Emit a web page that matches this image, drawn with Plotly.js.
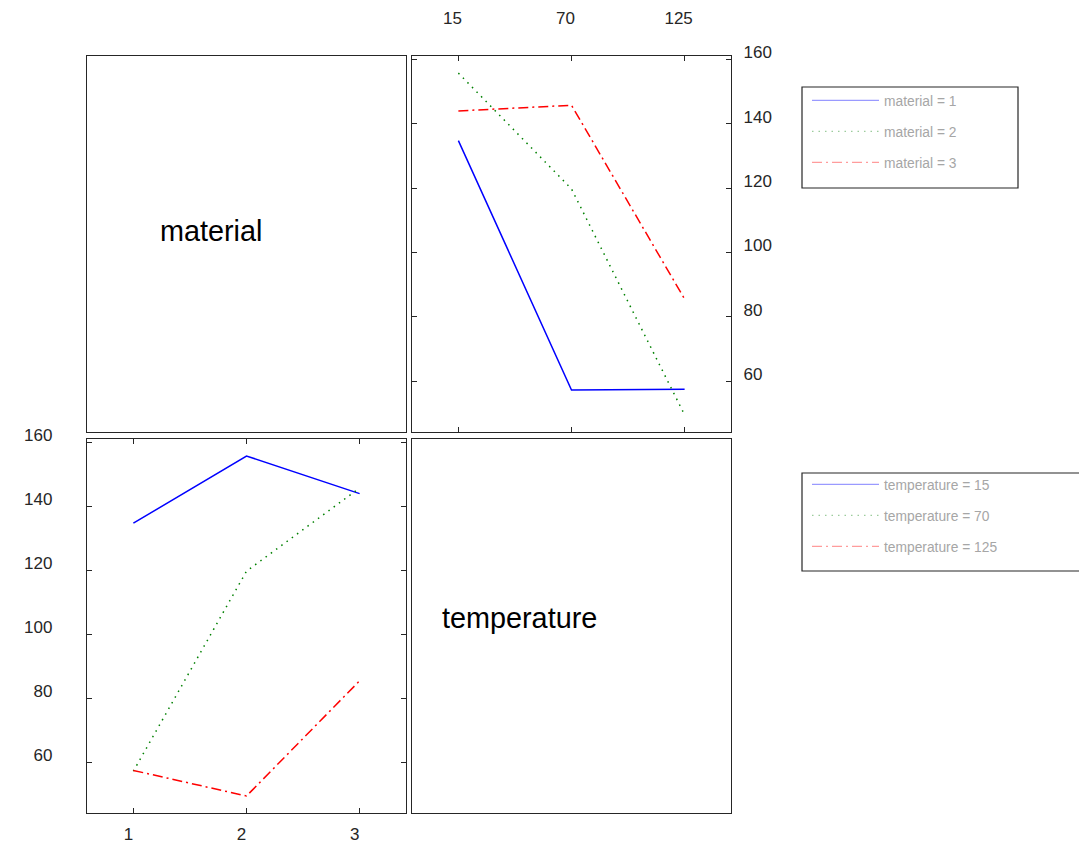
<!DOCTYPE html>
<html>
<head>
<meta charset="utf-8">
<script src="https://cdn.plot.ly/plotly-3.0.1.min.js"></script>
<style>html,body{margin:0;padding:0;background:#fff;}#chart{width:1079px;height:844px;}</style>
</head>
<body>
<div id="chart"></div>
<script>
// ---- data ----
const factorNames = ["material", "temperature"];
const materialLevels = [1, 2, 3];
const temperatureLevels = [15, 70, 125];
// mean response for each material (rows) at each temperature (columns)
const meanMaterial1 = [134.75, 57.25, 57.5];
const meanMaterial2 = [155.75, 119.75, 49.5];
const meanMaterial3 = [144.0, 145.75, 85.5];
const yTicks = [60, 80, 100, 120, 140, 160];

// ---- styles ----
const colors = ["#0000ff", "#008000", "#ff0000"];
const fadedColors = ["#9a9aff", "#9ccc9c", "#ff9c9c"];
const dashes = ["solid", "1.5px,5px", "10px,4px,2px,4px"];
const ink = "#262626";

const meansByMaterial = [meanMaterial1, meanMaterial2, meanMaterial3];
const meansByTemperature = temperatureLevels.map((t, j) => meansByMaterial.map(row => row[j]));

const all = meansByMaterial.flat();
const lo = Math.min(...all), hi = Math.max(...all);
const pad = (hi - lo) * 0.05;
const yRange = [lo - pad, hi + pad];

const traces = [];
// empty traces so the two diagonal (label) panels get their frames
traces.push({x: [null], y: [null], xaxis: "x", yaxis: "y", type: "scatter", mode: "lines", showlegend: false, hoverinfo: "skip"});
traces.push({x: [null], y: [null], xaxis: "x4", yaxis: "y4", type: "scatter", mode: "lines", showlegend: false, hoverinfo: "skip"});
// top-right: x = temperature, one line per material
meansByMaterial.forEach((vals, i) => {
  traces.push({
    x: temperatureLevels, y: vals, xaxis: "x2", yaxis: "y2",
    mode: "lines", type: "scatter", showlegend: false, hoverinfo: "x+y",
    line: {color: colors[i], width: 1.5, dash: dashes[i]}
  });
});
// bottom-left: x = material, one line per temperature
meansByTemperature.forEach((vals, j) => {
  traces.push({
    x: materialLevels, y: vals, xaxis: "x3", yaxis: "y3",
    mode: "lines", type: "scatter", showlegend: false, hoverinfo: "x+y",
    line: {color: colors[j], width: 1.5, dash: dashes[j]}
  });
});
// legend entries (faded, as in the reference)
materialLevels.forEach((m, i) => {
  traces.push({
    x: [null], y: [null], xaxis: "x2", yaxis: "y2", mode: "lines", type: "scatter",
    name: factorNames[0] + " = " + m, legend: "legend", legendgroup: "m" + i,
    line: {color: fadedColors[i], width: 1.2, dash: dashes[i]}
  });
});
temperatureLevels.forEach((t, j) => {
  traces.push({
    x: [null], y: [null], xaxis: "x3", yaxis: "y3", mode: "lines", type: "scatter",
    name: factorNames[1] + " = " + t, legend: "legend2", legendgroup: "t" + j,
    line: {color: fadedColors[j], width: 1.2, dash: dashes[j]}
  });
});

const W = 1079, H = 844;
const col1 = [87 / W, 406 / W], col2 = [412 / W, 731 / W];
const row1 = [1 - 432 / H, 1 - 56 / H], row2 = [1 - 813 / H, 1 - 439 / H];
const tickFont = {family: "Liberation Sans, Arial, sans-serif", size: 17, color: ink};

function diagAxis(domain, anchor) {
  return {domain: domain, anchor: anchor, range: [0, 1], showgrid: false, zeroline: false,
    showline: true, linecolor: ink, linewidth: 1.2, mirror: true, ticks: "", showticklabels: false, fixedrange: true};
}
function dataAxis(extra) {
  return Object.assign({showgrid: false, zeroline: false, showline: true, linecolor: ink, linewidth: 1.2,
    mirror: "ticks", ticks: "inside", ticklen: 5, tickcolor: ink, tickwidth: 1, tickfont: tickFont, fixedrange: true}, extra);
}
const legendBase = {
  bgcolor: "rgba(0,0,0,0)", borderwidth: 0, xanchor: "left", yanchor: "top",
  font: {family: "Liberation Sans, Arial, sans-serif", size: 13.8, color: "#a6a6a6"},
  itemwidth: 67, tracegroupgap: 10, itemclick: false, itemdoubleclick: false
};

const layout = {
  width: W, height: H, margin: {l: 0, r: 0, t: 0, b: 0},
  paper_bgcolor: "#ffffff", plot_bgcolor: "#ffffff", showlegend: true,
  xaxis: diagAxis(col1, "y"), yaxis: diagAxis(row1, "x"),
  xaxis4: diagAxis(col2, "y4"), yaxis4: diagAxis(row2, "x4"),
  xaxis2: dataAxis({domain: col2, anchor: "y2", side: "top", range: [15 - 55 * 0.41, 125 + 55 * 0.41],
    tickmode: "array", tickvals: temperatureLevels, ticktext: temperatureLevels.map(String), ticklabelstandoff: 24, ticklabelshift: -6}),
  yaxis2: dataAxis({domain: row1, anchor: "x2", side: "right", range: yRange,
    tickmode: "array", tickvals: yTicks, ticktext: yTicks.map(String), ticklabelstandoff: 8, ticklabelshift: -7}),
  xaxis3: dataAxis({domain: col1, anchor: "y3", side: "bottom", range: [1 - 0.41, 3 + 0.41],
    tickmode: "array", tickvals: materialLevels, ticktext: materialLevels.map(String), ticklabelstandoff: 5, ticklabelshift: -5}),
  yaxis3: dataAxis({domain: row2, anchor: "x3", side: "left", range: yRange,
    tickmode: "array", tickvals: yTicks, ticktext: yTicks.map(String), ticklabelstandoff: 30, ticklabelshift: -7}),
  legend: Object.assign({}, legendBase, {x: 807 / W, y: 1 - 85 / H}),
  legend2: Object.assign({}, legendBase, {x: 807 / W, y: 1 - 469 / H}),
  shapes: [
    {type: "rect", xref: "paper", yref: "paper", x0: 802 / W, x1: 1018 / W, y0: 1 - 188 / H, y1: 1 - 87 / H,
      line: {color: ink, width: 1.2}, fillcolor: "rgba(0,0,0,0)", layer: "below"},
    {type: "rect", xref: "paper", yref: "paper", x0: 802 / W, x1: 1090 / W, y0: 1 - 571 / H, y1: 1 - 473 / H,
      line: {color: ink, width: 1.2}, fillcolor: "rgba(0,0,0,0)", layer: "below"}
  ],
  annotations: [
    {text: factorNames[0], xref: "paper", yref: "paper", x: 211 / W, y: 1 - 231 / H, showarrow: false,
      xanchor: "center", yanchor: "middle", font: {family: "Liberation Sans, Arial, sans-serif", size: 28.8, color: "#000"}},
    {text: factorNames[1], xref: "paper", yref: "paper", x: 519 / W, y: 1 - 618 / H, showarrow: false,
      xanchor: "center", yanchor: "middle", font: {family: "Liberation Sans, Arial, sans-serif", size: 28.8, color: "#000"}}
  ]
};

Plotly.newPlot("chart", traces, layout, {displayModeBar: false, staticPlot: true});
</script>
</body>
</html>
